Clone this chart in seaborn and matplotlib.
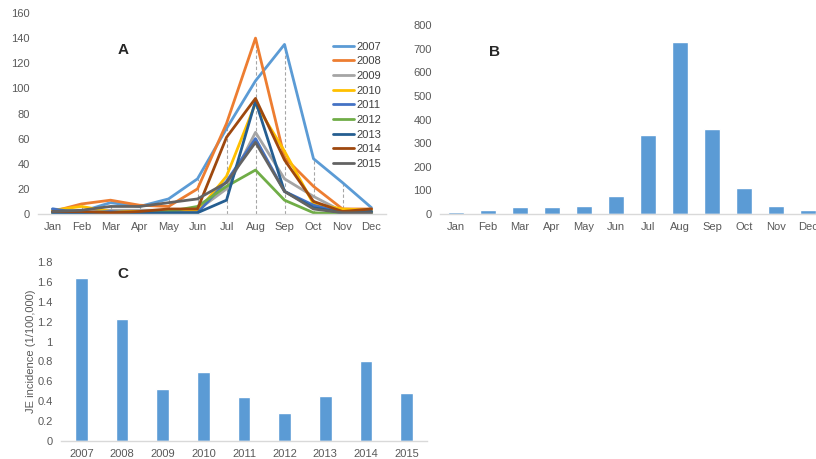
import numpy as np
import pandas as pd
import matplotlib
matplotlib.use("Agg")
import matplotlib.pyplot as plt
import seaborn as sns

months = ["Jan", "Feb", "Mar", "Apr", "May", "Jun", "Jul", "Aug", "Sep", "Oct", "Nov", "Dec"]
years = ["2007", "2008", "2009", "2010", "2011", "2012", "2013", "2014", "2015"]

cases_2007 = [4, 2, 9, 6, 12, 28, 68, 106, 135, 44, 25, 5]
cases_2008 = [2, 8, 11, 7, 6, 20, 72, 140, 45, 22, 4, 4]
cases_2009 = [1, 1, 3, 3, 3, 3, 20, 65, 28, 14, 2, 2]
cases_2010 = [3, 6, 2, 2, 2, 2, 30, 88, 50, 8, 4, 3]
cases_2011 = [4, 1, 2, 1, 1, 1, 26, 60, 18, 7, 1, 2]
cases_2012 = [0, 0, 0, 1, 2, 6, 22, 35, 11, 1, 0, 1]
cases_2013 = [1, 1, 1, 1, 1, 1, 11, 90, 18, 5, 1, 2]
cases_2014 = [2, 2, 1, 2, 4, 4, 61, 92, 43, 10, 2, 4]
cases_2015 = [2, 3, 6, 6, 9, 12, 25, 57, 18, 4, 1, 1]

monthly_total = [10, 18, 30, 30, 34, 78, 336, 728, 360, 110, 34, 16]
incidence = [1.64, 1.226, 0.524, 0.692, 0.44, 0.279, 0.453, 0.806, 0.48]

series = [cases_2007, cases_2008, cases_2009, cases_2010, cases_2011,
          cases_2012, cases_2013, cases_2014, cases_2015]
palette = ["#5B9BD5", "#ED7D31", "#A5A5A5", "#FFC000", "#4472C4",
           "#70AD47", "#255E91", "#9E480E", "#636363"]

sns.set_style("white")
plt.rcParams["font.family"] = ["Liberation Sans", "DejaVu Sans"]

tick_color = "#595959"
spine_color = "#D9D9D9"
bar_color = "#5B9BD5"

fig = plt.figure(figsize=(8.16, 4.59), dpi=100)
W, H = 816, 459


def px_axes(left, right, bottom, top):
    return fig.add_axes([left / W, 1 - bottom / H, (right - left) / W, (bottom - top) / H])


def style(ax, ymax, step, fmt, ypad=6):
    for s in ["top", "right", "left"]:
        ax.spines[s].set_visible(False)
    ax.spines["bottom"].set_color(spine_color)
    ax.spines["bottom"].set_linewidth(1.0)
    ax.set_ylim(0, ymax)
    ticks = np.arange(0, ymax + step / 2, step)
    ax.set_yticks(ticks)
    ax.set_yticklabels([fmt(t) for t in ticks])
    ax.tick_params(axis="both", length=0, labelsize=8, colors=tick_color, pad=6)
    ax.tick_params(axis="y", pad=ypad)
    ax.set_xlabel("")
    ax.set_ylabel("")


def panel_letter(x, y, s):
    # x, y in pixels measured from the top-left corner
    fig.text(x / W, 1 - y / H, s, fontsize=11, fontweight="bold",
             ha="center", va="center")


# Panel A: monthly cases per year
long = pd.DataFrame({
    "month": np.tile(months, len(years)),
    "idx": np.tile(np.arange(len(months)), len(years)),
    "year": np.repeat(years, len(months)),
    "cases": np.concatenate(series),
})
axA = px_axes(38, 386, 214, 13)
peak = np.max(np.array(series), axis=0)
axA.vlines(np.arange(len(months)), 0, peak, colors="#A6A6A6", linestyles=(0, (3, 2)),
           linewidth=0.8, zorder=1)
sns.lineplot(data=long, x="idx", y="cases", hue="year", palette=palette,
             linewidth=2.0, ax=axA, legend=True, zorder=2)
axA.set_xlim(-0.5, 11.5)
axA.set_xticks(np.arange(len(months)))
axA.set_xticklabels(months)
style(axA, 160, 20, lambda t: f"{int(t)}")
axA.legend(loc="upper left", bbox_to_anchor=(0.835, 0.88), frameon=False, fontsize=8,
           handlelength=1.9, handletextpad=0.2, labelspacing=0.42, borderaxespad=0,
           labelcolor="#404040")
for line in axA.get_legend().get_lines():
    line.set_linewidth(2.0)
panel_letter(123, 50, "A")

# Panel B: total cases by month
dfB = pd.DataFrame({"month": months, "cases": monthly_total})
axB = px_axes(440, 824, 214, 25)
sns.barplot(data=dfB, x="month", y="cases", color=bar_color, width=0.5,
            saturation=1, ax=axB)
axB.set_xlim(-0.5, 11.5)
style(axB, 800, 100, lambda t: f"{int(t)}")
panel_letter(495, 52, "B")

# Panel C: annual incidence
dfC = pd.DataFrame({"year": years, "incidence": incidence})
axC = px_axes(61, 427, 441, 262)
sns.barplot(data=dfC, x="year", y="incidence", color=bar_color, width=0.31,
            saturation=1, ax=axC)
axC.set_xlim(-0.5, 8.5)
style(axC, 1.8, 0.2, lambda t: f"{t:.1f}".rstrip("0").rstrip(".") if t else "0")
axC.set_ylabel("JE incidence (1/100,000)", fontsize=8, color=tick_color, labelpad=1)
panel_letter(123, 274, "C")

fig.savefig("out.png", dpi=100)
